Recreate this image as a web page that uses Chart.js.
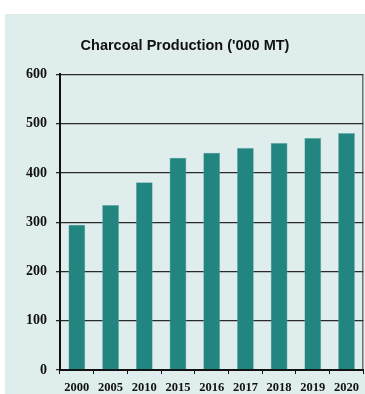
<!DOCTYPE html>
<html>
<head>
<meta charset="utf-8">
<script src="https://cdn.jsdelivr.net/npm/chart.js@4"></script>
<style>
    body { margin: 0; background: #ffffff; }
    #panel {
        position: absolute;
        left: 5px;
        top: 14px;
        width: 360px;
        height: 380px;
        background: #e0eded;
    }
</style>
</head>
<body>
<div id="panel"><canvas id="charcoalChart" width="360" height="380"></canvas></div>
<script>
// Chart data
const years = ['2000', '2005', '2010', '2015', '2016', '2017', '2018', '2019', '2020'];
const production = [295, 335, 381, 431, 441, 451, 461, 471, 481];
const yTicks = [0, 100, 200, 300, 400, 500, 600];

// Draws the right edge of the plot frame
const frameBorder = {
    id: 'frameBorder',
    afterDraw(chart) {
        const ctx = chart.ctx;
        const area = chart.chartArea;
        ctx.save();
        ctx.strokeStyle = '#333333';
        ctx.lineWidth = 1;
        ctx.beginPath();
        ctx.moveTo(area.right - 0.5, area.top);
        ctx.lineTo(area.right - 0.5, area.bottom);
        ctx.stroke();
        ctx.restore();
    }
};

const ctx = document.getElementById('charcoalChart').getContext('2d');

new Chart(ctx, {
    type: 'bar',
    data: {
        labels: years,
        datasets: [{
            label: "Charcoal Production ('000 MT)",
            data: production,
            backgroundColor: '#23857f',
            borderColor: '#6fb0ac',
            borderWidth: 0.6,
            barPercentage: 0.5,
            categoryPercentage: 1
        }]
    },
    options: {
        responsive: false,
        animation: false,
        layout: {
            padding: { left: 0, right: 0, top: 0, bottom: 0 }
        },
        plugins: {
            legend: { display: false },
            tooltip: { enabled: false },
            title: {
                display: true,
                text: "Charcoal Production ('000 MT)",
                color: '#111111',
                font: { family: 'Liberation Sans', size: 14.5, weight: 'bold' },
                padding: { top: 23, bottom: 20 }
            }
        },
        scales: {
            x: {
                grid: {
                    drawOnChartArea: false,
                    drawTicks: true,
                    tickLength: 4,
                    color: '#111111',
                    offset: true
                },
                border: { color: '#111111', width: 2 },
                ticks: {
                    color: '#111111',
                    padding: 6,
                    maxRotation: 0,
                    font: { family: 'Liberation Serif', size: 12.5, weight: 'bold' }
                },
                afterFit(scale) {
                    scale.height = 24;
                }
            },
            y: {
                min: 0,
                max: 600,
                afterBuildTicks(scale) {
                    scale.ticks = yTicks.map(v => ({ value: v }));
                },
                grid: {
                    color: '#2a2a2a',
                    lineWidth: 1.3,
                    tickLength: 4,
                    drawTicks: true
                },
                border: { color: '#111111', width: 2 },
                ticks: {
                    color: '#111111',
                    padding: 9,
                    font: { family: 'Liberation Serif', size: 14, weight: 'bold' }
                },
                afterFit(scale) {
                    scale.width = 55;
                }
            }
        }
    },
    plugins: [frameBorder]
});
</script>
</body>
</html>
